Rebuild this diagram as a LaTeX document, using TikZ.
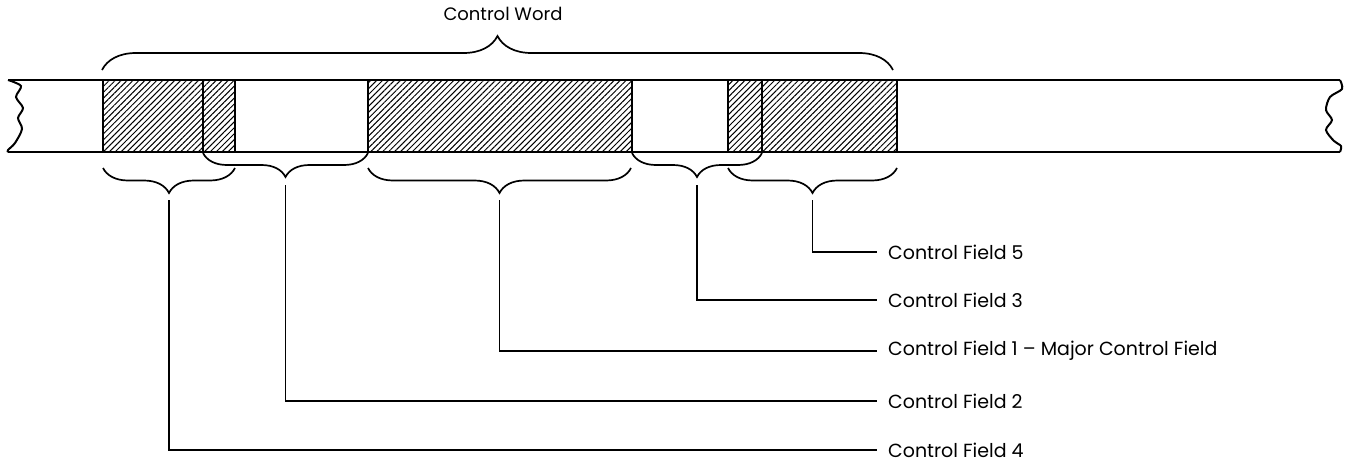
\documentclass[tikz,border=0pt]{standalone}
\usepackage{fontspec}
\setmainfont{Poppins}
\usetikzlibrary{patterns.meta,decorations.pathreplacing}

\tikzset{
  hatch/.style={pattern={Lines[angle=45,distance=4.2pt,line width=1pt]}},
  fieldbrace/.style={decorate,decoration={brace,amplitude=#1},line width=1.7pt},
  lead/.style={line width=1.4pt},
  fieldlabel/.style={anchor=west,inner sep=0pt,font=\fontsize{19}{22}\selectfont}
}

\begin{document}
\begin{tikzpicture}[x=1pt,y=-1pt]
  \useasboundingbox (0,0) rectangle (1345,463);
  \foreach \a/\b in {103/203,203/235,368/632,728/762,762/897}
    \draw[hatch,line width=1.8pt] (\a,80) rectangle (\b,152);
  \draw[line width=2.4pt] (8,80) -- (1340,80);
  \draw[line width=2.4pt] (8,152) -- (1340,152);
  \draw[line width=2pt] plot[smooth] coordinates {(8,80) (21,86) (16,97) (23,108) (18,118) (22,129) (15,143) (8,150) (8,152)};
  \draw[line width=2pt] plot[smooth] coordinates {(1340,80) (1342,89) (1330,97) (1326,110) (1332,120) (1326,130) (1334,141) (1341,146) (1340,152)};

  \draw[fieldbrace=34] (102,70) -- (893,70);
  \node[font=\fontsize{18}{21}\selectfont] (word) at (503,14) {Control Word};

  \draw[fieldbrace=25] (235,168) -- (103,168);
  \draw[fieldbrace=24] (368,153) -- (203,153);
  \draw[fieldbrace=25] (631,168) -- (368,168);
  \draw[fieldbrace=24] (762,153) -- (632,153);
  \draw[fieldbrace=25] (897,168) -- (728,168);
  \coordinate (fa) at (169,200);
  \coordinate (fb) at (285.5,185);
  \coordinate (fc) at (499.5,200);
  \coordinate (fd) at (697,185);
  \coordinate (fe) at (812.5,200);

  \node[fieldlabel] (cf5) at (888,252) {Control Field 5};
  \node[fieldlabel] (cf3) at (888,300) {Control Field 3};
  \node[fieldlabel] (cf1) at (888,351) {Control Field 1 -- Major Control Field};
  \node[fieldlabel] (cf2) at (888,401) {Control Field 2};
  \node[fieldlabel] (cf4) at (888,450) {Control Field 4};

  \draw[lead] (fe) |- ([xshift=-11pt]cf5.west);
  \draw[lead] (fd) |- ([xshift=-11pt]cf3.west);
  \draw[lead] (fc) |- ([xshift=-11pt]cf1.west);
  \draw[lead] (fb) |- ([xshift=-11pt]cf2.west);
  \draw[lead] (fa) |- ([xshift=-11pt]cf4.west);
\end{tikzpicture}
\end{document}
